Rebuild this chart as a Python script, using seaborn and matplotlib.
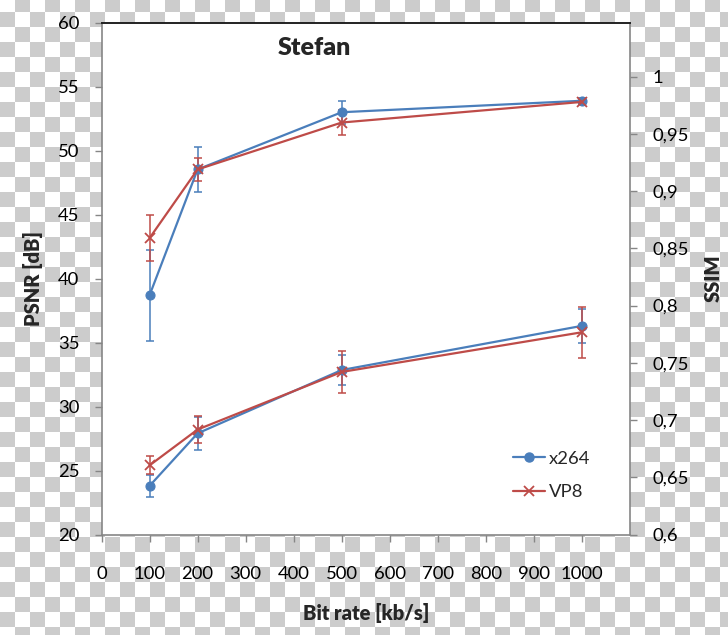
import numpy as np
import pandas as pd
import matplotlib
matplotlib.use("Agg")
import matplotlib.pyplot as plt
import seaborn as sns
from matplotlib.lines import Line2D

# ---------------- data ----------------
bitrate = [100, 200, 500, 1000]
codecs = ["x264", "VP8"]

psnr_x264 = [23.8, 27.9, 32.85, 36.3]
psnr_x264_err = [0.85, 1.3, 1.15, 1.35]
psnr_vp8 = [25.4, 28.2, 32.7, 35.8]
psnr_vp8_err = [0.7, 1.05, 1.65, 2.0]

ssim_x264 = [0.809, 0.919, 0.969, 0.979]
ssim_x264_err = [0.04, 0.02, 0.01, 0.002]
ssim_vp8 = [0.859, 0.919, 0.960, 0.978]
ssim_vp8_err = [0.02, 0.01, 0.011, 0.002]

x_ticks = [0, 100, 200, 300, 400, 500, 600, 700, 800, 900, 1000]
psnr_ticks = [20, 25, 30, 35, 40, 45, 50, 55, 60]
ssim_ticks = [0.6, 0.65, 0.7, 0.75, 0.8, 0.85, 0.9, 0.95, 1.0]
ssim_tick_labels = ["0,6", "0,65", "0,7", "0,75", "0,8", "0,85", "0,9", "0,95", "1"]

title = "Stefan"
xlabel = "Bit rate [kb/s]"
ylabel_left = "PSNR [dB]"
ylabel_right = "SSIM"

# ---------------- style ----------------
sns.set_theme(style="ticks")
plt.rcParams["font.family"] = ["Lato", "DejaVu Sans"]

BLUE = "#4A7EBB"
RED = "#BE4B48"
SPINE = "#868686"
FS = 13.3
LFS = 14.5

W, H = 728, 635
fig = plt.figure(figsize=(W / 100, H / 100), dpi=100)
fig.patch.set_facecolor("white")

# transparency-checkerboard background in its own axes behind everything
bg = fig.add_axes([0, 0, 1, 1], zorder=-5)
yy, xx = np.mgrid[0:H, 0:W]
cb = (((yy - 12) // 15 + xx // 15) % 2 == 0)
g = np.where(cb, 204, 255).astype(np.uint8)
bg.imshow(np.dstack([g, g, g]), interpolation="nearest", aspect="auto",
          extent=(0, W, H, 0))
bg.set_xlim(0, W)
bg.set_ylim(H, 0)
bg.axis("off")

ax = fig.add_axes([101.5 / W, 1 - 534.5 / H, 528.5 / W, 512 / H], zorder=1)
ax.set_facecolor("white")
ax2 = ax.twinx()


def draw(axis, y, err, color, marker, ms, mew):
    sns.lineplot(x=bitrate, y=y, ax=axis, color=color, marker=marker,
                 markersize=ms, markeredgecolor=color, markerfacecolor=color,
                 markeredgewidth=mew, linewidth=1.6, legend=False, zorder=3)
    axis.errorbar(bitrate, y, yerr=err, fmt="none", ecolor=color,
                  elinewidth=1.1, capsize=3, capthick=1.1, zorder=2)


draw(ax, psnr_x264, psnr_x264_err, BLUE, "o", 6.5, 0.8)
draw(ax, psnr_vp8, psnr_vp8_err, RED, "x", 6.5, 1.3)
draw(ax2, ssim_x264, ssim_x264_err, BLUE, "o", 6.5, 0.8)
draw(ax2, ssim_vp8, ssim_vp8_err, RED, "x", 6.5, 1.3)

ax.set_xlim(0, 1100)
ax.set_ylim(20, 60)
ax2.set_ylim(0.6, 1.0474)

ax.set_xticks(x_ticks)
ax.set_xticklabels([str(t) for t in x_ticks])
ax.set_yticks(psnr_ticks)
ax.set_yticklabels([str(t) for t in psnr_ticks])
ax2.set_yticks(ssim_ticks)
ax2.set_yticklabels(ssim_tick_labels)

for s in ["left", "bottom", "right"]:
    ax.spines[s].set_visible(True)
    ax.spines[s].set_color(SPINE)
    ax.spines[s].set_linewidth(1.2)
ax.spines["top"].set_visible(True)
ax.spines["top"].set_color("#222222")
ax.spines["top"].set_linewidth(1.4)
for s in ax2.spines.values():
    s.set_visible(False)

ax.tick_params(axis="y", which="both", direction="out", length=5, width=1,
               color=SPINE, labelsize=FS, pad=11, labelcolor="black",
               left=True, right=False)
ax.tick_params(axis="x", which="both", direction="out", length=5, width=1,
               color=SPINE, labelsize=FS, pad=18, labelcolor="black",
               bottom=True, top=False)
ax2.tick_params(axis="y", direction="out", length=5, width=1, color=SPINE,
                labelsize=FS, pad=11, labelcolor="black", right=True)

ax.set_xlabel(xlabel, fontsize=LFS, fontweight="heavy", va="center")
ax.xaxis.set_label_coords(0.5, -0.153)
ax.set_ylabel(ylabel_left, fontsize=LFS, fontweight="heavy", va="center")
ax.yaxis.set_label_coords(-0.1296, 0.5)
ax2.set_ylabel(ylabel_right, fontsize=LFS, fontweight="heavy", va="center")
ax2.yaxis.set_label_coords(1.157, 0.5)

ax.text(0.403, 0.95, title, transform=ax.transAxes, ha="center", va="center",
        fontsize=18, fontweight="heavy")

handles = [
    Line2D([], [], color=BLUE, marker="o", markersize=6.5, linewidth=1.6),
    Line2D([], [], color=RED, marker="x", markersize=6.5, markeredgewidth=1.3,
           linewidth=1.6),
]
ax2.legend(handles, codecs, loc="center left",
           bbox_to_anchor=(513 / W, 1 - 475.5 / H),
           bbox_transform=fig.transFigure, frameon=False, fontsize=FS,
           handlelength=1.75, handletextpad=0.2, labelspacing=0.95,
           borderpad=0, borderaxespad=0)

fig.savefig("out.png", dpi=100)
